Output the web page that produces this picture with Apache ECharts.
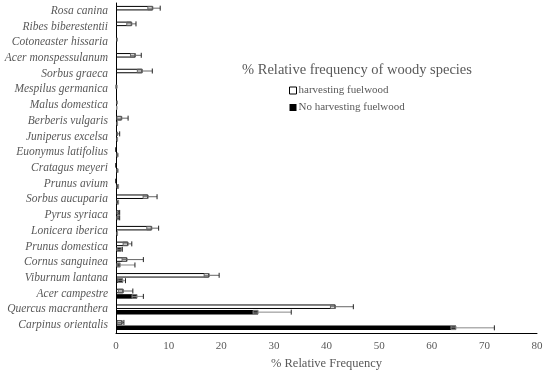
<!DOCTYPE html>
<html><head><meta charset="utf-8">
<script src="https://cdn.jsdelivr.net/npm/echarts@6/dist/echarts.min.js"></script>
<style>html,body{margin:0;padding:0;background:#fff}#c{width:550px;height:378px}</style>
</head><body><div id="c"></div>
<script>
var categories = ['Rosa canina','Ribes biberestentii','Cotoneaster hissaria','Acer monspessulanum','Sorbus graeca','Mespilus germanica','Malus domestica','Berberis vulgaris','Juniperus excelsa','Euonymus latifolius','Cratagus meyeri','Prunus avium','Sorbus aucuparia','Pyrus syriaca','Lonicera iberica','Prunus domestica','Cornus sanguinea','Viburnum lantana','Acer campestre','Quercus macranthera','Carpinus orientalis'];
var harvesting    = [7.0, 3.0, 0.2, 3.7, 5.0, 0.1, 0.2, 1.1, 0.3, 0, 0, 0, 6.1, 0.6, 6.8, 2.3, 2.1, 17.7, 1.4, 41.7, 1.2];
var harvestingErr = [1.4, 0.8, 0, 1.1, 1.9, 0, 0, 1.2, 0.4, 0, 0, 0, 1.7, 0.1, 1.3, 0.7, 3.1, 1.9, 1.8, 3.4, 0.3];
var noHarvesting    = [0, 0, 0, 0, 0, 0, 0.1, 0.3, 0.3, 0.4, 0.4, 0.5, 0.5, 0.6, 0.3, 1.0, 0.8, 1.3, 4.0, 27.0, 64.6];
var noHarvestingErr = [0, 0, 0, 0, 0, 0, 0, 0, 0, 0, 0, 0, 0, 0.1, 0, 0.2, 2.8, 0.5, 1.2, 6.3, 7.3];
var xTicks = [0, 10, 20, 30, 40, 50, 60, 70, 80];

var BW = 4.5, GAP = 0.9;
function errData(vals, errs) {
  return vals.map(function (v, i) { return [v, errs[i], i]; });
}
function makeErr(offset, boxColor) {
  return function (params, api) {
    var v = api.value(0), e = api.value(1), idx = api.value(2);
    if (!(v > 0)) return null;
    var p = api.coord([v, idx]);
    var y = p[1] + offset;
    var children = [];
    var bw = 5;
    var x0 = Math.max(api.coord([0, idx])[0] + 1, p[0] - bw);
    children.push({ type: 'rect', shape: { x: x0, y: y - BW / 2 + 0.5, width: p[0] - x0, height: BW - 1 },
      style: { fill: null, stroke: boxColor, lineWidth: 1 } });
    if (e > 0) {
      var pe = api.coord([v + e, idx]);
      children.push({ type: 'line', shape: { x1: x0, y1: y, x2: pe[0], y2: y }, style: { stroke: boxColor, lineWidth: 1 } });
      children.push({ type: 'line', shape: { x1: pe[0], y1: y - 2.5, x2: pe[0], y2: y + 2.5 }, style: { stroke: '#222', lineWidth: 1 } });
    }
    return { type: 'group', children: children };
  };
}

var chart = echarts.init(document.getElementById('c'));
var txt = '#595959';
chart.setOption({
  animation: false,
  textStyle: { fontFamily: 'Liberation Serif' },
  title: {
    text: '% Relative frequency of woody species',
    left: 352, textAlign: 'center', top: 58,
    textStyle: { fontFamily: 'Liberation Serif', fontSize: 14.5, fontWeight: 'normal', color: txt }
  },
  legend: {
    orient: 'vertical', left: 284, top: 80, itemWidth: 7, itemHeight: 7, itemGap: 6,
    icon: 'rect',
    textStyle: { fontFamily: 'Liberation Serif', fontSize: 11, color: txt, padding: [0, 0, 0, -3] },
    data: [
      { name: 'harvesting fuelwood', itemStyle: { color: '#fff', borderColor: '#000', borderWidth: 1 } },
      { name: 'No harvesting fuelwood', itemStyle: { color: '#000' } }
    ]
  },
  grid: { left: 116, right: 13, top: 3, bottom: 45, containLabel: false },
  xAxis: {
    type: 'value', min: 0, max: 80, interval: 10,
    name: '% Relative Frequency', nameLocation: 'middle', nameGap: 24,
    nameTextStyle: { fontFamily: 'Liberation Serif', fontSize: 12.5, color: txt },
    axisLine: { show: true, lineStyle: { color: '#000', width: 1 } },
    axisTick: { show: false },
    splitLine: { show: false },
    axisLabel: { fontFamily: 'Liberation Serif', fontSize: 11, color: txt, margin: 8,
      formatter: function (v) { return xTicks.indexOf(v) >= 0 ? String(v) : ''; } }
  },
  yAxis: {
    type: 'category', data: categories, inverse: true,
    axisLine: { show: true, lineStyle: { color: '#000', width: 1 } },
    axisTick: { show: false },
    axisLabel: { fontFamily: 'Liberation Serif', fontStyle: 'italic', fontSize: 11.5, color: txt, margin: 8, interval: 0 }
  },
  series: [
    { name: 'harvesting fuelwood', type: 'bar', data: harvesting, barWidth: BW, barGap: '20%',
      itemStyle: { color: '#fff', borderColor: '#000', borderWidth: 1 } },
    { name: 'No harvesting fuelwood', type: 'bar', data: noHarvesting, barWidth: BW, barGap: '20%',
      itemStyle: { color: '#000' } },
    { type: 'custom', name: 'errH', data: errData(harvesting, harvestingErr), encode: { x: 0, y: 2 },
      renderItem: makeErr(-(BW + GAP) / 2, '#666'), z: 5 },
    { type: 'custom', name: 'errN', data: errData(noHarvesting, noHarvestingErr), encode: { x: 0, y: 2 },
      renderItem: makeErr((BW + GAP) / 2, '#888'), z: 5 }
  ]
});
</script></body></html>
